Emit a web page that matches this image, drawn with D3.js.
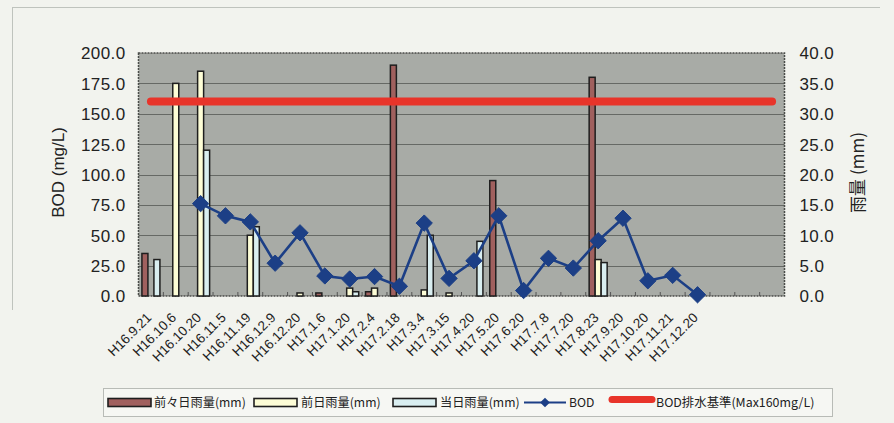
<!DOCTYPE html>
<html><head><meta charset="utf-8">
<script src="https://cdn.jsdelivr.net/npm/d3@7"></script>
<style>
html,body{margin:0;padding:0;background:#f2f3ee;}
svg{display:block;}
text{font-family:"Liberation Sans",Arial,sans-serif;fill:#222;}
</style></head><body>
<svg id="c" width="894" height="423"></svg>
<script>
// ---- data ----
const categories = ["H16.9.21","H16.10.6","H16.10.20","H16.11.5","H16.11.19","H16.12.9","H16.12.20",
  "H17.1.6","H17.1.20","H17.2.4","H17.2.18","H17.3.4","H17.3.15","H17.4.20","H17.5.20","H17.6.20",
  "H17.7.8","H17.7.20","H17.8.23","H17.9.20","H17.10.20","H17.11.21","H17.12.20","","",""];
const rainTwoDaysBefore = [7,0,0,0,0,0,0,0.5,0,0.7,38,0,0,0,19,0,0,0,36,0,0,0,0,0,0,0];
const rainDayBefore     = [0,35,37,0,10,0,0.5,0,1.3,1.3,0,1.0,0.5,0,0,0,0,0,6,0,0,0,0,0,0,0];
const rainSameDay       = [6,0,24,0,11.4,0,0,0,0.7,0,0,10,0,9,0,0,0,0,5.5,0,0,0,0,0,0,0];
const bod = [null,null,76,66,61,27,52,16.5,14,16,8,60,14.5,29,66,4.5,31,23,45.5,64,12.5,17,1,null,null,null];
const bodStandard = categories.map(() => 160);
const leftTicks = [0,25,50,75,100,125,150,175,200];
const rightTicks = [0,5,10,15,20,25,30,35,40];
const legendLabels = ["前々日雨量(mm)","前日雨量(mm)","当日雨量(mm)","BOD","BOD排水基準(Max160mg/L)"];

// ---- layout ----
const svg = d3.select("#c");
const L = 138.5, R = 784.5, T = 53, B = 296;
const idx = d3.range(categories.length);
const x = d3.scaleBand().domain(idx).range([L, R]).padding(0);
const yL = d3.scaleLinear().domain([0,200]).range([B, T]);
const yR = d3.scaleLinear().domain([0,40]).range([B, T]);

// outer frame lines
svg.append("line").attr("x1",12).attr("x2",880).attr("y1",7.5).attr("y2",7.5).attr("stroke","#bfc3bd").attr("stroke-width",1);
svg.append("line").attr("x1",12.5).attr("x2",12.5).attr("y1",7).attr("y2",310).attr("stroke","#bfc3bd").attr("stroke-width",1);

// plot background
svg.append("rect").attr("x",L).attr("y",T).attr("width",R-L).attr("height",B-T).attr("fill","#a8aba6");

// grid
svg.append("g").selectAll("line").data(leftTicks.slice(1,-1)).join("line")
  .attr("x1",L).attr("x2",R).attr("y1",d=>Math.round(yL(d))+0.5).attr("y2",d=>Math.round(yL(d))+0.5)
  .attr("stroke","#666965").attr("stroke-width",1);

// border
svg.append("rect").attr("x",L).attr("y",T).attr("width",R-L).attr("height",B-T)
  .attr("fill","none").attr("stroke","#4a4c49").attr("stroke-width",1.5).attr("stroke-dasharray","2,1");

// bottom axis ticks
svg.append("g").selectAll("line").data(idx.slice(1)).join("line")
  .attr("x1",d=>x(d)).attr("x2",d=>x(d)).attr("y1",B).attr("y2",B-4)
  .attr("stroke","#555").attr("stroke-width",1);

// axes labels
const gl = svg.append("g").attr("transform",`translate(${L-13},0)`)
  .call(d3.axisLeft(yL).tickValues(leftTicks).tickSize(0).tickFormat(d3.format(".1f")));
gl.select(".domain").remove();
gl.selectAll("text").attr("font-size",17).attr("fill","#222").attr("dy","0.35em").attr("x",0)
  .style("font-family","'Liberation Sans',Arial,sans-serif").style("letter-spacing","0.4px");
const gr = svg.append("g").attr("transform",`translate(${R+15},0)`)
  .call(d3.axisRight(yR).tickValues(rightTicks).tickSize(0).tickFormat(d3.format(".1f")));
gr.select(".domain").remove();
gr.selectAll("text").attr("font-size",17).attr("fill","#222").attr("dy","0.35em").attr("x",0)
  .style("font-family","'Liberation Sans',Arial,sans-serif").style("letter-spacing","0.4px");

svg.append("text").attr("transform",`translate(64,${(T+B)/2-2}) rotate(-90)`)
  .attr("text-anchor","middle").attr("font-size",17).text("BOD (mg/L)");
svg.append("text").attr("transform",`translate(864,${(T+B)/2-2}) rotate(-90)`)
  .attr("text-anchor","middle").attr("font-size",17)
  .style("font-family","'Noto Sans CJK JP','Liberation Sans',sans-serif").text("雨量 (mm)");

// x labels
svg.append("g").selectAll("text").data(idx.filter(i=>categories[i]!=="")).join("text")
  .attr("transform",i=>`translate(${x(i)+x.bandwidth()/2-2},${B+19}) rotate(-45)`)
  .attr("text-anchor","end").attr("font-size",13.5).attr("dy","0.35em").text(i=>categories[i]);

// bars
const series = [
  {vals: rainTwoDaysBefore, fill: "#a0605e"},
  {vals: rainDayBefore, fill: "#fdfdd6"},
  {vals: rainSameDay, fill: "#d9eef0"}
];
const bw = 6;
series.forEach((s, k) => {
  svg.append("g").selectAll("rect").data(idx.filter(i=>s.vals[i]>0)).join("rect")
    .attr("x", i => x(i)+x.bandwidth()/2 - 9 + k*bw)
    .attr("y", i => yR(s.vals[i]))
    .attr("width", bw).attr("height", i => B - yR(s.vals[i]))
    .attr("fill", s.fill).attr("stroke","#1e1e1e").attr("stroke-width",1.5);
});

// standard line
svg.append("path").datum(idx)
  .attr("d", d3.line().x(i=>x(i)+x.bandwidth()/2).y(i=>yL(bodStandard[i])))
  .attr("fill","none").attr("stroke","#e8342a").attr("stroke-width",8).attr("stroke-linecap","round");

// BOD line
const bodPts = idx.filter(i=>bod[i]!=null);
svg.append("path").datum(bodPts)
  .attr("d", d3.line().x(i=>x(i)+x.bandwidth()/2).y(i=>yL(bod[i])))
  .attr("fill","none").attr("stroke","#1c3f86").attr("stroke-width",2.6);
svg.append("g").selectAll("path").data(bodPts).join("path")
  .attr("transform", i=>`translate(${x(i)+x.bandwidth()/2},${yL(bod[i])})`)
  .attr("d", d3.symbol(d3.symbolDiamond2, 170))
  .attr("fill","#1c3f86").attr("stroke","#1c3f86").attr("stroke-width",1).attr("stroke-linejoin","round");

// legend
const lg = svg.append("g");
lg.append("rect").attr("x",103.5).attr("y",388.5).attr("width",729).attr("height",28)
  .attr("fill","#f6f7f3").attr("stroke","#b8bbb6").attr("stroke-width",1);
const ly = 402.5;
const lfont = "'Noto Sans CJK JP','Liberation Sans',sans-serif";
const swatches = [
  {x:108, fill:"#a0605e", tx:154},
  {x:254, fill:"#fdfdd6", tx:301},
  {x:393, fill:"#d9eef0", tx:440}
];
swatches.forEach((s,k)=>{
  lg.append("rect").attr("x",s.x).attr("y",ly-4).attr("width",43).attr("height",8)
    .attr("fill",s.fill).attr("stroke","#1e1e1e").attr("stroke-width",1.6);
  lg.append("text").attr("x",s.tx).attr("y",ly).attr("dy","0.35em").attr("font-size",12.2)
    .style("font-family",lfont).text(legendLabels[k]);
});
lg.append("line").attr("x1",524).attr("x2",566).attr("y1",ly).attr("y2",ly).attr("stroke","#1c3f86").attr("stroke-width",2.2);
lg.append("path").attr("transform",`translate(545,${ly})`).attr("d",d3.symbol(d3.symbolDiamond2,60)).attr("fill","#1c3f86");
lg.append("text").attr("x",569).attr("y",ly).attr("dy","0.35em").attr("font-size",12.2).style("font-family",lfont).text(legendLabels[3]);
lg.append("line").attr("x1",612).attr("x2",652).attr("y1",ly-3).attr("y2",ly-3).attr("stroke","#e8342a").attr("stroke-width",7).attr("stroke-linecap","round");
lg.append("text").attr("x",656).attr("y",ly).attr("dy","0.35em").attr("font-size",12.4).style("font-family",lfont).text(legendLabels[4]);
</script>
</body></html>
